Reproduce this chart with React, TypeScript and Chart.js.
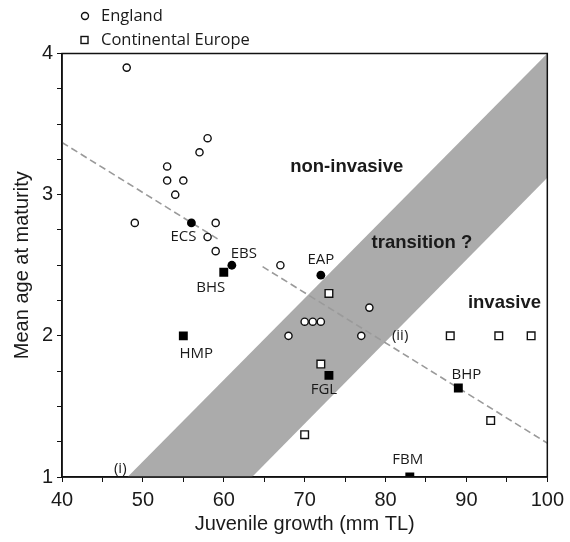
import React, { useEffect, useRef } from 'react';
import { Chart, registerables } from 'chart.js';

Chart.register(...registerables);

// England populations (open circles)
const englandX = [48, 58, 57, 53, 53, 55, 54, 49, 59, 58, 59, 67, 70, 71, 72, 78, 68, 77];
const englandY = [3.9, 3.4, 3.3, 3.2, 3.1, 3.1, 3.0, 2.8, 2.8, 2.7, 2.6, 2.5, 2.1, 2.1, 2.1, 2.2, 2.0, 2.0];
// Continental Europe populations (open squares)
const europeX = [73, 72, 88, 94, 98, 93, 70];
const europeY = [2.3, 1.8, 2.0, 2.0, 2.0, 1.4, 1.3];
// Named England populations (filled circles)
const englandNamed = ['ECS', 'EBS', 'EAP'];
const englandNamedX = [56, 61, 72];
const englandNamedY = [2.8, 2.5, 2.43];
// Named Continental populations (filled squares)
const europeNamed = ['BHS', 'HMP', 'FGL', 'BHP', 'FBM'];
const europeNamedX = [60, 55, 73, 89, 83];
const europeNamedY = [2.45, 2.0, 1.72, 1.63, 1.0];
// Transition band (polygon corners)
const bandX = [48.1, 63.5, 100, 100, 48.1];
const bandY = [1, 1, 3.12, 4, 1];
// Dashed regression line (null = break behind label)
const trendX = [40, 59.6, 62, 64.8, 100];
const trendY: (number | null)[] = [3.37, 2.674, null, 2.49, 1.24];
// Region texts
const regionText = ['non-invasive', 'transition ?', 'invasive'];
const regionX = [75.2, 84.5, 94.7];
const regionY = [3.2, 2.655, 2.23];
// Line markers
const markText = ['(i)', '(ii)'];
const markX = [47.2, 81.8];
const markY = [1.057, 2.0];
// Axis ranges
const xMin = 40, xMax = 100, xMajor = 10, xMinor = 5;
const yMin = 1, yMax = 4, yMinor = 0.25;

// label pixel offsets for named points (style)
const namedOffsets: Record<string, [number, number]> = {
  ECS: [-8, 14], EBS: [12, -12], EAP: [0, -15],
  BHS: [-13, 15.5], HMP: [13, 17.5], FGL: [-5, 14], BHP: [8, -13.5], FBM: [-2, -17],
};

const pts = (xs: number[], ys: (number | null)[]) => xs.map((x, i) => ({ x, y: ys[i] }));

const LABEL_FONT = '"Open Sans", "Liberation Sans", sans-serif';
const AXIS_FONT = '"Liberation Sans", Arial, sans-serif';

const overlayPlugin = {
  id: 'overlay',
  afterDatasetsDraw(chart: any) {
    const { ctx, scales } = chart;
    const xs = scales.x, ys = scales.y;
    ctx.save();
    ctx.fillStyle = '#1a1a1a';
    ctx.textAlign = 'center';
    ctx.textBaseline = 'middle';
    // region labels
    ctx.font = `bold 18.5px ${AXIS_FONT}`;
    regionText.forEach((t, i) => {
      ctx.fillText(t, xs.getPixelForValue(regionX[i]), ys.getPixelForValue(regionY[i]));
    });
    // line markers
    ctx.font = `15px ${LABEL_FONT}`;
    markText.forEach((t, i) => {
      ctx.fillText(t, xs.getPixelForValue(markX[i]), ys.getPixelForValue(markY[i]));
    });
    // named labels
    const drawNamed = (names: string[], nx: number[], ny: number[]) => {
      names.forEach((n, i) => {
        const o = namedOffsets[n] || [0, 0];
        ctx.fillText(n, xs.getPixelForValue(nx[i]) + o[0], ys.getPixelForValue(ny[i]) + o[1]);
      });
    };
    drawNamed(englandNamed, englandNamedX, englandNamedY);
    drawNamed(europeNamed, europeNamedX, europeNamedY);
    ctx.restore();
  },
  afterDraw(chart: any) {
    const { ctx, chartArea } = chart;
    ctx.save();
    ctx.strokeStyle = '#111';
    ctx.lineWidth = 1.5;
    ctx.strokeRect(chartArea.left, chartArea.top, chartArea.right - chartArea.left, chartArea.bottom - chartArea.top);
    // legend
    ctx.fillStyle = '#1a1a1a';
    ctx.textAlign = 'left';
    ctx.textBaseline = 'middle';
    ctx.font = `16.5px ${LABEL_FONT}`;
    ctx.lineWidth = 1.4;
    ctx.beginPath();
    ctx.arc(85, 16, 3.5, 0, Math.PI * 2);
    ctx.fillStyle = '#fff';
    ctx.fill();
    ctx.stroke();
    ctx.strokeRect(81, 36.5, 7, 7);
    ctx.fillStyle = '#1a1a1a';
    ctx.fillText('England', 101, 16);
    ctx.fillText('Continental Europe', 101, 40.5);
    ctx.restore();
  },
};

export default function App() {
  const ref = useRef<HTMLCanvasElement | null>(null);
  useEffect(() => {
    if (!ref.current) return;
    const chart = new Chart(ref.current, {
      type: 'line',
      data: {
        datasets: [
          {
            label: 'Europe named',
            data: pts(europeNamedX, europeNamedY),
            showLine: false,
            pointStyle: 'rect',
            pointRadius: 6.3,
            pointBorderWidth: 0,
            pointBackgroundColor: '#000',
            pointBorderColor: '#000',
            order: 1,
          },
          {
            label: 'England named',
            data: pts(englandNamedX, englandNamedY),
            showLine: false,
            pointStyle: 'circle',
            pointRadius: 4.4,
            pointBorderWidth: 0,
            pointBackgroundColor: '#000',
            pointBorderColor: '#000',
            order: 1,
          },
          {
            label: 'Continental Europe',
            data: pts(europeX, europeY),
            showLine: false,
            pointStyle: 'rect',
            pointRadius: 5.4,
            pointBorderWidth: 1.4,
            pointBackgroundColor: '#fff',
            pointBorderColor: '#111',
            order: 2,
          },
          {
            label: 'England',
            data: pts(englandX, englandY),
            showLine: false,
            pointStyle: 'circle',
            pointRadius: 3.6,
            pointBorderWidth: 1.4,
            pointBackgroundColor: '#fff',
            pointBorderColor: '#111',
            order: 2,
          },
          {
            label: 'trend',
            data: pts(trendX, trendY),
            showLine: true,
            spanGaps: false,
            borderColor: '#9a9a9a',
            borderWidth: 1.6,
            borderDash: [7, 4],
            pointRadius: 0,
            fill: false,
            order: 3,
          },
          {
            label: 'band',
            data: pts(bandX, bandY),
            showLine: true,
            borderWidth: 0,
            borderColor: 'rgba(0,0,0,0)',
            backgroundColor: '#ababab',
            pointRadius: 0,
            fill: 'shape',
            tension: 0,
            order: 10,
          },
        ],
      },
      options: {
        animation: false,
        responsive: false,
        events: [],
        layout: { padding: { top: 53.5, right: 21, left: 0, bottom: 0 } },
        plugins: { legend: { display: false }, tooltip: { enabled: false } },
        scales: {
          x: {
            type: 'linear',
            min: xMin,
            max: xMax,
            afterFit: (s: any) => { s.height = 65; },
            border: { display: true, color: '#111', width: 1.5 },
            grid: { drawOnChartArea: false, drawTicks: true, tickLength: 5, color: '#111' },
            ticks: {
              stepSize: xMinor,
              autoSkip: false,
              maxRotation: 0,
              padding: 6,
              color: '#1a1a1a',
              font: { family: AXIS_FONT, size: 20 },
              callback: (v: any) => (Number(v) % xMajor === 0 ? String(v) : ''),
            },
            title: {
              display: true,
              text: 'Juvenile growth (mm TL)',
              color: '#1a1a1a',
              font: { family: AXIS_FONT, size: 20 },
              padding: { top: 4, bottom: 6 },
            },
          },
          y: {
            type: 'linear',
            min: yMin,
            max: yMax,
            afterFit: (s: any) => { s.width = 62; },
            border: { display: true, color: '#111', width: 1.5 },
            grid: { drawOnChartArea: false, drawTicks: true, tickLength: 5, color: '#111' },
            ticks: {
              stepSize: yMinor,
              autoSkip: false,
              padding: 4,
              color: '#1a1a1a',
              font: { family: AXIS_FONT, size: 20 },
              callback: (v: any) => (Number.isInteger(Number(v)) ? String(v) : ''),
            },
            title: {
              display: true,
              text: 'Mean age at maturity',
              color: '#1a1a1a',
              font: { family: AXIS_FONT, size: 20 },
              padding: { top: 10, bottom: 0 },
            },
          },
        },
      },
      plugins: [overlayPlugin],
    } as any);
    return () => chart.destroy();
  }, []);
  return (
    <div style={{ position: 'absolute', left: 0, top: 0, width: 570, height: 542, background: '#fff' }}>
      <canvas ref={ref} width={570} height={542} style={{ width: 570, height: 542, display: 'block' }} />
    </div>
  );
}
